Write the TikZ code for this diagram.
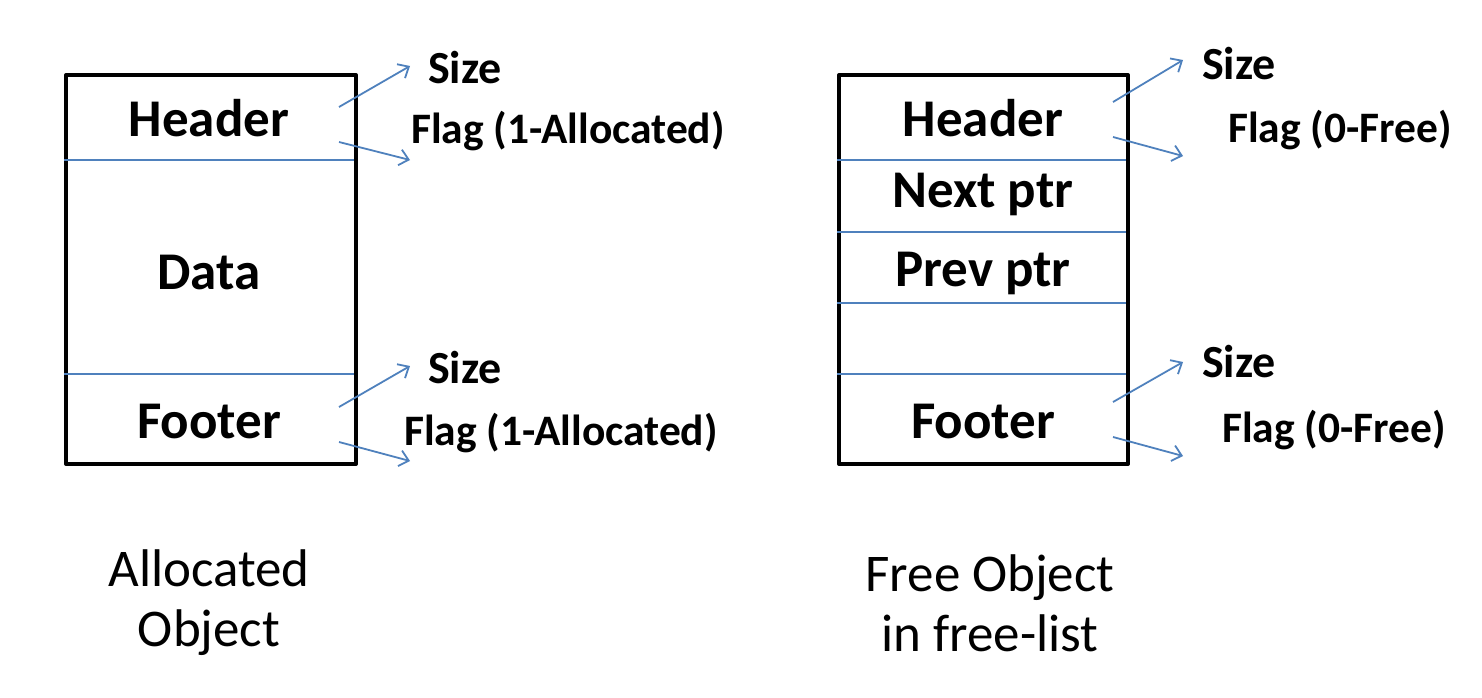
\documentclass[tikz,border=0pt]{standalone}
\usepackage{fontspec}
\setmainfont{Carlito}
\usetikzlibrary{arrows.meta}
\definecolor{lineblue}{HTML}{4F81BD}
\tikzset{
  memframe/.style={draw=black, line width=4pt, line join=round},
  divider/.style={draw=lineblue, line width=1.8pt},
  boxtext/.style={font=\fontsize{53}{58}\selectfont\bfseries, inner sep=0pt},
  sizetext/.style={font=\fontsize{46}{50}\selectfont\bfseries, inner sep=0pt, anchor=west},
  sidetext/.style={font=\fontsize{43.5}{48}\selectfont\bfseries, inner sep=0pt, anchor=west},
  captext/.style={font=\fontsize{53}{60}\selectfont, align=center, inner sep=0pt},
  pointer/.style={draw=lineblue, line width=1.8pt, -{Straight Barb[length=9pt,width=16pt,line width=1.8pt]}},
}
\begin{document}
\begin{tikzpicture}[x=1pt,y=-1pt]
\useasboundingbox (0,0) rectangle (1482,698);
% ---------- Allocated object ----------
\node[memframe, minimum width=290pt, minimum height=389pt, anchor=north west, inner sep=0pt] (abox) at (64,73) {};
\coordinate (ad1l) at (64,160); \coordinate (ad1r) at (354,160);
\coordinate (ad2l) at (64,374); \coordinate (ad2r) at (354,374);
\draw[divider] (ad1l) -- (ad1r);
\draw[divider] (ad2l) -- (ad2r);
\node[boxtext] (ahead) at (209,118) {Header};
\node[boxtext] (adata) at (209,273) {Data};
\node[boxtext] (afoot) at (209,422) {Footer};
\node[sizetext] (asize1) at (428,68) {Size};
\node[sidetext] (aflag1) at (411,131) {Flag (1-Allocated)};
\node[sizetext] (asize2) at (428,368) {Size};
\node[sidetext] (aflag2) at (404,433) {Flag (1-Allocated)};
\coordinate (as1s) at (339,107); \coordinate (as1e) at (410,66);
\coordinate (af1s) at (339,142); \coordinate (af1e) at (410,160);
\coordinate (as2s) at (339,407); \coordinate (as2e) at (410,366);
\coordinate (af2s) at (339,442); \coordinate (af2e) at (410,461);
\draw[pointer] (as1s) -- (as1e);
\draw[pointer] (af1s) -- (af1e);
\draw[pointer] (as2s) -- (as2e);
\draw[pointer] (af2s) -- (af2e);
\node[captext] (acap) at (209,603) {Allocated\\Object};
% ---------- Free object ----------
\node[memframe, minimum width=289pt, minimum height=389pt, anchor=north west, inner sep=0pt] (fbox) at (837,73) {};
\coordinate (fd1l) at (837,160); \coordinate (fd1r) at (1126,160);
\coordinate (fd2l) at (837,232); \coordinate (fd2r) at (1126,232);
\coordinate (fd3l) at (837,303); \coordinate (fd3r) at (1126,303);
\coordinate (fd4l) at (837,374); \coordinate (fd4r) at (1126,374);
\draw[divider] (fd1l) -- (fd1r);
\draw[divider] (fd2l) -- (fd2r);
\draw[divider] (fd3l) -- (fd3r);
\draw[divider] (fd4l) -- (fd4r);
\node[boxtext] (fhead) at (983,118) {Header};
\node[boxtext] (fnext) at (983,194) {Next ptr};
\node[boxtext] (fprev) at (983,273) {Prev ptr};
\node[boxtext] (ffoot) at (983,422) {Footer};
\node[sizetext] (fsize1) at (1202,64) {Size};
\node[sidetext] (fflag1) at (1228,130) {Flag (0-Free)};
\node[sizetext] (fsize2) at (1202,362) {Size};
\node[sidetext] (fflag2) at (1222,430) {Flag (0-Free)};
\coordinate (fs1s) at (1113,102); \coordinate (fs1e) at (1183,60);
\coordinate (ff1s) at (1113,137); \coordinate (ff1e) at (1183,156);
\coordinate (fs2s) at (1113,402); \coordinate (fs2e) at (1183,362);
\coordinate (ff2s) at (1113,437); \coordinate (ff2e) at (1183,456);
\draw[pointer] (fs1s) -- (fs1e);
\draw[pointer] (ff1s) -- (ff1e);
\draw[pointer] (fs2s) -- (fs2e);
\draw[pointer] (ff2s) -- (ff2e);
\node[captext] (fcap) at (990,603) {Free Object\\in free-list};
\end{tikzpicture}
\end{document}
